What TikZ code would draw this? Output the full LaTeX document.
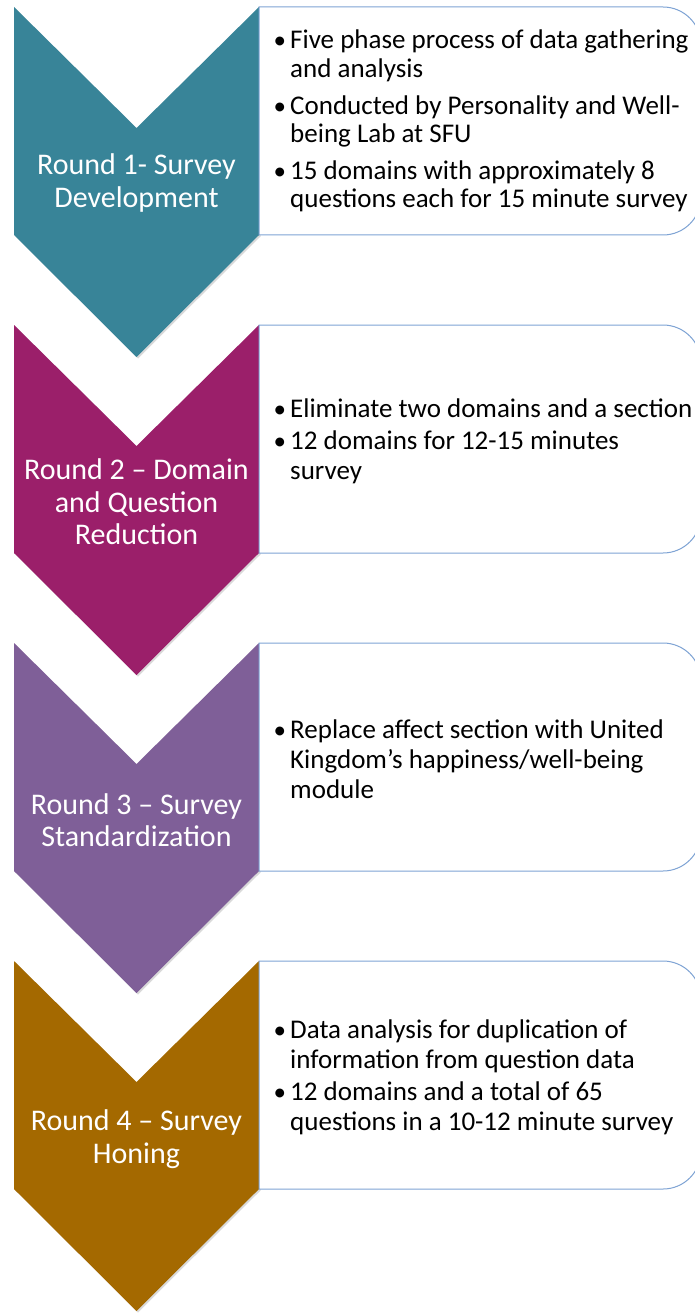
\documentclass[tikz,border=0pt]{standalone}
\usepackage{fontspec}
\setmainfont{Carlito}
\usetikzlibrary{positioning}

\definecolor{roundteal}{RGB}{56,132,152}
\definecolor{roundmagenta}{RGB}{155,31,106}
\definecolor{roundpurple}{RGB}{127,95,152}
\definecolor{roundbrown}{RGB}{164,105,0}
\definecolor{boxblue}{RGB}{126,163,212}

\newcommand{\bul}{\makebox[14pt][l]{\hspace*{-2.5pt}\fontsize{25}{25}\selectfont\textbullet}}
\newcommand{\ind}{\hspace*{14pt}}

\tikzset{
  chevron/.style={fill=#1, preaction={fill=black, opacity=0.15,
    transform canvas={shift={(1.5pt,-1.5pt)}}}},
  boxline/.style={draw=boxblue, line width=1pt, fill=white},
  roundtext/.style={text=white, align=center, inner sep=0pt,
    font=\fontsize{30}{32.5}\selectfont},
  itemtext/.style={anchor=west, align=left, inner sep=0pt,
    font=\fontsize{27}{30}\selectfont},
}

\begin{document}
\begin{tikzpicture}[x=1pt, y=-1pt]
  \useasboundingbox (0,0) rectangle (695,1313);

  % round 1
  \path[chevron=roundteal] (14,7) -- (136.5,128) -- (259,7) -- (259,235) -- (136.5,357) -- (14,235) -- cycle;
  \draw[boxline] (259,7) -- (663,7) arc[start angle=-90, end angle=0, radius=38]
    -- (701,197) arc[start angle=0, end angle=90, radius=38] -- (259,235) -- cycle;
  \node[roundtext] (r1) at (136.5,183) {Round 1- Survey\\Development};
  \node[itemtext, font=\fontsize{27}{28.3}\selectfont] (d1) at (276,121) {\bul Five phase process of data gathering\\
    \ind and analysis\\[8.5pt]
    \bul Conducted by Personality and Well-\\
    \ind being Lab at SFU\\[8.5pt]
    \bul 15 domains with approximately 8\\
    \ind questions each for 15 minute survey};

  % round 2
  \path[chevron=roundmagenta] (14,325) -- (136.5,446) -- (259,325) -- (259,553) -- (136.5,675) -- (14,553) -- cycle;
  \draw[boxline] (259,325) -- (663,325) arc[start angle=-90, end angle=0, radius=38]
    -- (701,515) arc[start angle=0, end angle=90, radius=38] -- (259,553) -- cycle;
  \node[roundtext] (r2) at (136.5,502) {Round 2 -- Domain\\and Question\\Reduction};
  \node[itemtext] (d2) at (276,441) {\bul Eliminate two domains and a section\\[2pt]
    \bul 12 domains for 12-15 minutes\\
    \ind survey};

  % round 3
  \path[chevron=roundpurple] (14,643) -- (136.5,764) -- (259,643) -- (259,871) -- (136.5,993) -- (14,871) -- cycle;
  \draw[boxline] (259,643) -- (663,643) arc[start angle=-90, end angle=0, radius=38]
    -- (701,833) arc[start angle=0, end angle=90, radius=38] -- (259,871) -- cycle;
  \node[roundtext] (r3) at (136.5,820) {Round 3 -- Survey\\Standardization};
  \node[itemtext] (d3) at (276,759) {\bul Replace affect section with United\\
    \ind Kingdom’s happiness/well-being\\
    \ind module};

  % round 4
  \path[chevron=roundbrown] (14,961) -- (136.5,1082) -- (259,961) -- (259,1189) -- (136.5,1311) -- (14,1189) -- cycle;
  \draw[boxline] (259,961) -- (663,961) arc[start angle=-90, end angle=0, radius=38]
    -- (701,1151) arc[start angle=0, end angle=90, radius=38] -- (259,1189) -- cycle;
  \node[roundtext] (r4) at (136.5,1139) {Round 4 -- Survey\\Honing};
  \node[itemtext] (d4) at (276,1077) {\bul Data analysis for duplication of\\
    \ind information from question data\\[2pt]
    \bul 12 domains and a total of 65\\
    \ind questions in a 10-12 minute survey};
\end{tikzpicture}
\end{document}
